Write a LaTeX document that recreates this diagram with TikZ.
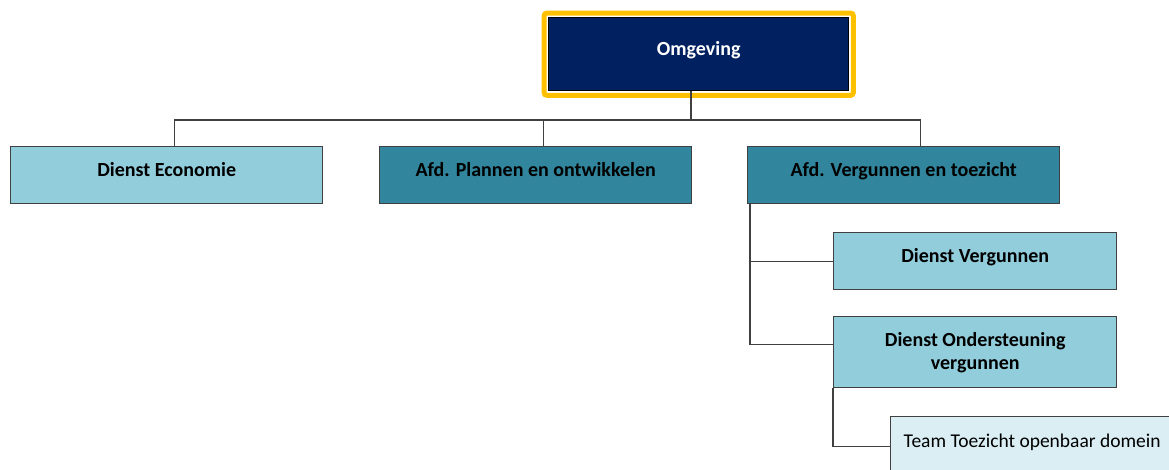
\documentclass[tikz,border=0pt]{standalone}
\usepackage{fontspec}
\setmainfont{Carlito}
\usetikzlibrary{positioning}

\begin{document}
\begin{tikzpicture}[x=1pt,y=-1pt]
    % Colors
    \definecolor{navyfill}{HTML}{002060}
    \definecolor{lightfill}{HTML}{92CDDC}
    \definecolor{tealfill}{HTML}{31859C}
    \definecolor{palefill}{HTML}{DAEEF3}
    \definecolor{framecolor}{HTML}{FFC000}
    \colorlet{linecolor}{black!75}

    % Styles
    \tikzstyle{unit}=[draw=linecolor,line width=1.4pt,anchor=north west,
      inner sep=0pt,minimum height=57pt,align=center,
      font=\bfseries\fontsize{20}{23}\selectfont]
    \tikzstyle{lifted}=[text height=14pt,text depth=12pt]
    \tikzstyle{light unit}=[unit,lifted,fill=lightfill,minimum width=312pt]
    \tikzstyle{teal unit}=[unit,lifted,fill=tealfill,minimum width=312pt]
    \tikzstyle{sub unit}=[unit,fill=lightfill,minimum width=283pt]
    \tikzstyle{team unit}=[unit,lifted,fill=palefill,minimum width=283pt,
      minimum height=60pt,font=\fontsize{19.5}{23}\selectfont]
    \tikzstyle{conn}=[draw=linecolor,line width=1.4pt]

    \useasboundingbox (0,0) rectangle (1169,469);
    \clip (0,0) rectangle (1169,469);

    % The graphic
    \node[unit,lifted,draw=black,fill=navyfill,text=white,minimum width=300pt,
      minimum height=73pt] (omg) at (548,17) {Omgeving};
    \draw[framecolor,line width=5pt,rounded corners=3pt]
      ([shift={(-4pt,4pt)}]omg.north west) rectangle
      ([shift={(4pt,-4pt)}]omg.south east);

    \node[light unit] (econ) at (10,146) {Dienst Economie};
    \node[teal unit] (plan) at (379,146) {Afd. Plannen en ontwikkelen};
    \node[teal unit] (verg) at (747,146) {Afd. Vergunnen en toezicht};

    \node[sub unit,lifted] (dverg) at (833,232) {Dienst Vergunnen};
    \node[sub unit,minimum height=71pt] (dond) at (833,316)
      {Dienst Ondersteuning\\vergunnen};
    \node[team unit] (team) at (890,416) {Team Toezicht openbaar domein};

    % Connectors
    \coordinate (bus) at (691,120);
    \draw[conn] (bus |- omg.south) -- (bus);
    \draw[conn] ([xshift=8pt]econ.north) |- (bus);
    \draw[conn] ([xshift=8pt]plan.north) |- (bus);
    \draw[conn] ([xshift=17pt]verg.north) |- (bus);

    \draw[conn] ([xshift=3pt]verg.south west) |- (dverg.west);
    \draw[conn] ([xshift=3pt]verg.south west) |- ([yshift=8pt]dond.west);
    \draw[conn] (dond.south west) |- (team.west);
\end{tikzpicture}
\end{document}
